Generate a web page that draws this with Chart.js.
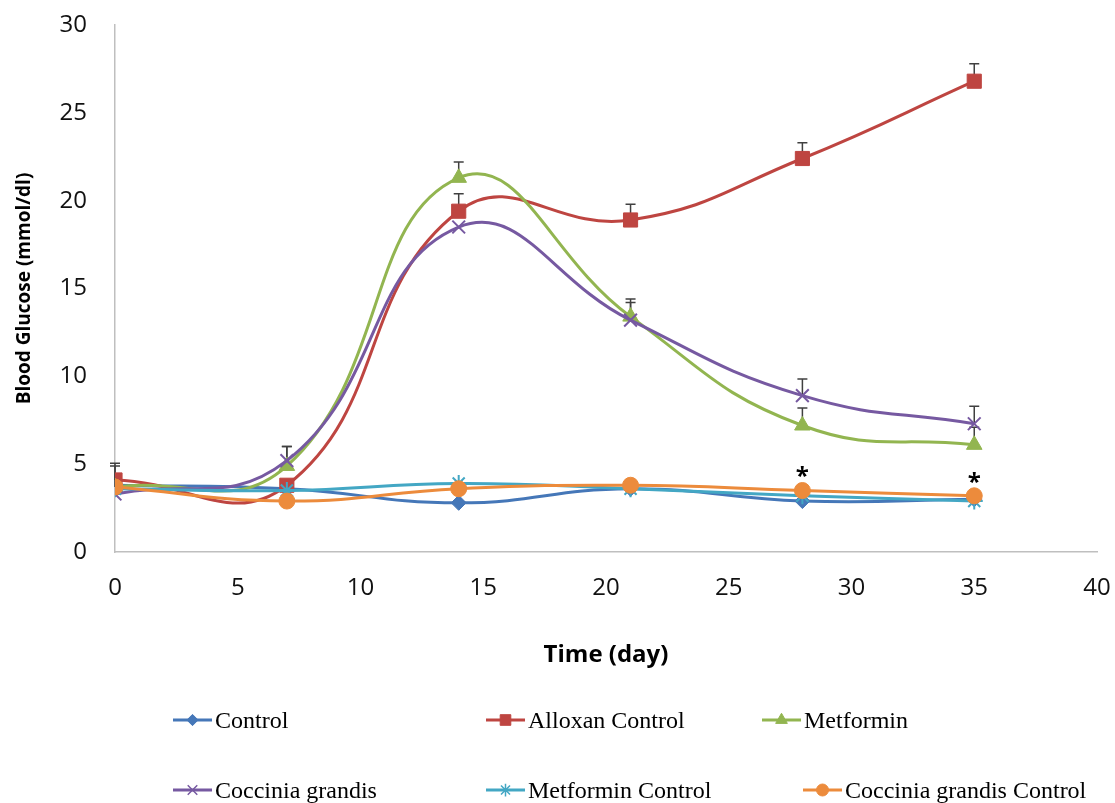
<!DOCTYPE html>
<html>
<head>
<meta charset="utf-8">
<script src="https://cdn.jsdelivr.net/npm/chart.js@4/dist/chart.umd.min.js"></script>
<style>
  html, body { margin: 0; padding: 0; background: #fff; }
  #wrap { position: relative; width: 1115px; height: 803px; }
  #legend { position: absolute; left: 0; top: 0; width: 1115px; height: 803px; pointer-events: none; }
  .item { position: absolute; display: flex; align-items: center; font-family: "Liberation Serif", "Times New Roman", serif; font-size: 24px; color: #000; white-space: nowrap; }
  .item canvas { margin-right: 3px; }
</style>
</head>
<body>
<div id="wrap">
  <canvas id="chart" width="1115" height="803"></canvas>
  <div id="legend"></div>
</div>
<script>
// days on the x axis
const days = [0, 7, 14, 21, 28, 35];

// blood glucose (mmol/dl)
const control = [3.8, 3.6, 2.8, 3.6, 2.9, 3.0];
const alloxanControl = [4.1, 3.8, 19.4, 18.9, 22.4, 26.8];
const metformin = [3.7, 4.9, 21.3, 13.4, 7.2, 6.1];
const cocciniaGrandis = [3.3, 5.2, 18.5, 13.2, 8.9, 7.3];
const metforminControl = [3.6, 3.5, 3.9, 3.6, 3.2, 2.9];
const cocciniaControl = [3.7, 2.9, 3.6, 3.8, 3.5, 3.2];

// upper error bars (only shown above the mean)
const alloxanErr = [0.95, 0, 1.0, 0.9, 0.9, 1.0];
const metforminErr = [1.2, 1.1, 0.9, 1.0, 1.0, 1.0];
const cocciniaErr = [0, 0.8, 0, 1.0, 0.95, 1.0];

// days that carry a significance star (on the Coccinia grandis Control point)
const starDays = [28, 35];

const xTicks = [0, 5, 10, 15, 20, 25, 30, 35, 40];
const yTicks = [0, 5, 10, 15, 20, 25, 30];

const series = [
  { label: "Control", data: control, color: "#4577B8", style: "rectRot", r: 7.5, err: null },
  { label: "Alloxan Control", data: alloxanControl, color: "#BE4541", style: "rect", r: 10, err: alloxanErr },
  { label: "Metformin", data: metformin, color: "#92B550", style: "triangle", r: 9, err: metforminErr },
  { label: "Coccinia grandis", data: cocciniaGrandis, color: "#7659A1", style: "crossRot", r: 9, err: cocciniaErr },
  { label: "Metformin Control", data: metforminControl, color: "#43A7C4", style: "star", r: 8.5, err: null },
  { label: "Coccinia grandis Control", data: cocciniaControl, color: "#EC8B3C", style: "circle", r: 8, err: null }
];

const legendSpots = [[173, 720], [486, 720], [762, 720], [173, 790], [486, 790], [803, 790]];

const errorBars = {
  id: "errorBars",
  beforeDatasetsDraw(chart) {
    const ctx = chart.ctx;
    const xs = chart.scales.x, ys = chart.scales.y;
    ctx.save();
    ctx.strokeStyle = "#404040";
    ctx.lineWidth = 1.5;
    series.forEach((s) => {
      if (!s.err) return;
      s.data.forEach((v, i) => {
        if (!s.err[i]) return;
        const x = xs.getPixelForValue(days[i]);
        const y0 = ys.getPixelForValue(v);
        const y1 = ys.getPixelForValue(v + s.err[i]);
        ctx.beginPath();
        ctx.moveTo(x, y0);
        ctx.lineTo(x, y1);
        ctx.moveTo(x - 5, y1);
        ctx.lineTo(x + 5, y1);
        ctx.stroke();
      });
    });
    ctx.restore();
  },
  afterDatasetsDraw(chart) {
    const ctx = chart.ctx;
    const xs = chart.scales.x, ys = chart.scales.y;
    ctx.save();
    ctx.fillStyle = "#000";
    ctx.font = "bold 24px 'Open Sans'";
    ctx.textAlign = "center";
    ctx.textBaseline = "middle";
    starDays.forEach((d) => {
      const i = days.indexOf(d);
      const x = xs.getPixelForValue(d);
      const y = ys.getPixelForValue(cocciniaControl[i]);
      ctx.fillText("*", x, y - 13);
    });
    ctx.restore();
  }
};

const chart = new Chart(document.getElementById("chart").getContext("2d"), {
  type: "line",
  data: {
    datasets: series.map((s, i) => ({
      label: s.label,
      data: s.data.map((v, j) => ({ x: days[j], y: v })),
      borderColor: s.color,
      backgroundColor: s.color,
      borderWidth: 3,
      pointStyle: s.style,
      pointRadius: s.r,
      pointBorderWidth: s.style === "crossRot" || s.style === "star" ? 2 : 1,
      pointBorderColor: s.color,
      pointBackgroundColor: s.color,
      tension: 0.45,
      fill: false,
      order: series.length - i
    }))
  },
  options: {
    responsive: false,
    animation: false,
    layout: { padding: { left: 5, right: 18, top: 25, bottom: 133 } },
    plugins: { legend: { display: false }, tooltip: { enabled: false } },
    scales: {
      x: {
        type: "linear",
        min: 0,
        max: 40,
        afterBuildTicks: (scale) => { scale.ticks = xTicks.map((v) => ({ value: v })); },
        afterFit: (scale) => {
          scale.height = 118;
          scale.paddingLeft = 0;
          scale.paddingRight = 0;
        },
        grid: { display: false, drawTicks: false },
        border: { display: true, color: "#BFBFBF", width: 1.5 },
        ticks: { padding: 22, color: "#111", font: { family: "Open Sans", size: 24 } },
        title: { display: true, text: "Time (day)", color: "#000", padding: { top: 0, bottom: 0 }, font: { family: "Open Sans", size: 24, weight: "bold" } }
      },
      y: {
        min: 0,
        max: 30,
        afterBuildTicks: (scale) => { scale.ticks = yTicks.map((v) => ({ value: v })); },
        afterFit: (scale) => {
          scale.width = 110;
          scale.paddingTop = 0;
          scale.paddingBottom = 0;
        },
        grid: { display: false, drawTicks: false },
        border: { display: true, color: "#BFBFBF", width: 1.5 },
        ticks: { padding: 28, color: "#111", font: { family: "Open Sans", size: 24 } },
        title: { display: true, text: "Blood Glucose (mmol/dl)", color: "#000", padding: { top: 8, bottom: 0 }, font: { family: "Open Sans", size: 19, weight: "bold" } }
      }
    }
  },
  plugins: [errorBars]
});

// legend, built from the same series list
const legend = document.getElementById("legend");
series.forEach((s, i) => {
  const item = document.createElement("div");
  item.className = "item";
  item.style.left = legendSpots[i][0] + "px";
  item.style.top = (legendSpots[i][1] - 16) + "px";
  item.style.height = "32px";
  const icon = document.createElement("canvas");
  icon.width = 39;
  icon.height = 20;
  const c = icon.getContext("2d");
  c.strokeStyle = s.color;
  c.fillStyle = s.color;
  c.lineWidth = 3;
  c.beginPath();
  c.moveTo(0, 10);
  c.lineTo(39, 10);
  c.stroke();
  if (Chart.helpers && Chart.helpers.drawPoint) {
    c.lineWidth = s.style === "crossRot" || s.style === "star" ? 1.5 : 1;
    Chart.helpers.drawPoint(c, { pointStyle: s.style, radius: s.r * 0.75, rotation: 0, borderWidth: c.lineWidth }, 19.5, 10);
  }
  item.appendChild(icon);
  const label = document.createElement("span");
  label.textContent = s.label;
  item.appendChild(label);
  legend.appendChild(item);
});
</script>
</body>
</html>
